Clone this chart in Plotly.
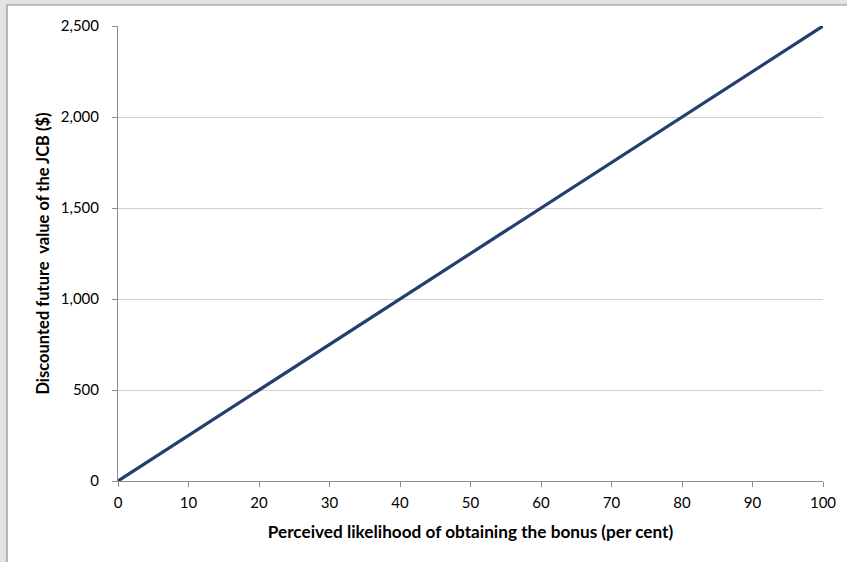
import plotly.graph_objects as go

likelihood = [0, 10, 20, 30, 40, 50, 60, 70, 80, 90, 100]
value = [0, 250, 500, 750, 1000, 1250, 1500, 1750, 2000, 2250, 2500]
x_ticks = [0, 10, 20, 30, 40, 50, 60, 70, 80, 90, 100]
y_ticks = [0, 500, 1000, 1500, 2000, 2500]
y_tick_labels = ["0", "500", "1,000", "1,500", "2,000", "2,500"]

W, H = 847, 562
L, R, T, B = 118, 24, 26, 81
pw, ph = W - L - R, H - T - B

fig = go.Figure()
fig.add_trace(go.Scatter(x=likelihood, y=value, mode="lines",
                         line=dict(color="#233f6e", width=3.2), hoverinfo="skip",
                         showlegend=False))

fig.add_shape(type="rect", xref="paper", yref="paper", layer="below",
              x0=(7 - L) / pw, x1=(W + 5 - L) / pw,
              y0=-(H + 5 - (H - B)) / ph, y1=1 + (T - 5) / ph,
              fillcolor="white", line=dict(color="#8f8f8f", width=1.2))

font = "Lato, 'Open Sans', sans-serif"
fig.update_layout(
    width=W, height=H,
    margin=dict(l=L, r=R, t=T, b=B),
    paper_bgcolor="#e3e3e3", plot_bgcolor="white",
    font=dict(family=font, size=15, color="#000000"),
    xaxis=dict(range=[0, 100], tickvals=x_ticks, showgrid=False,
               showline=True, linecolor="#8c8c8c", linewidth=1,
               ticks="outside", ticklen=5, tickcolor="#8c8c8c",
               zeroline=False, ticklabelstandoff=3,
               title=dict(text="<b>Perceived likelihood of obtaining the bonus (per cent)</b>",
                          font=dict(size=17.2), standoff=15)),
    yaxis=dict(range=[0, 2500], tickvals=y_ticks, ticktext=y_tick_labels,
               showgrid=True, gridcolor="#d0d0d0", gridwidth=1,
               showline=True, linecolor="#8c8c8c", linewidth=1,
               ticks="outside", ticklen=5, tickcolor="#8c8c8c",
               zeroline=False, ticklabelstandoff=10,
               title=dict(text="<b>Discounted future  value of the JCB ($)</b>",
                          font=dict(size=16.5), standoff=7)),
)

fig.write_html("out.html", config={"displayModeBar": False},
               post_script="document.body.style.margin='0';document.body.style.background='#e3e3e3';")
